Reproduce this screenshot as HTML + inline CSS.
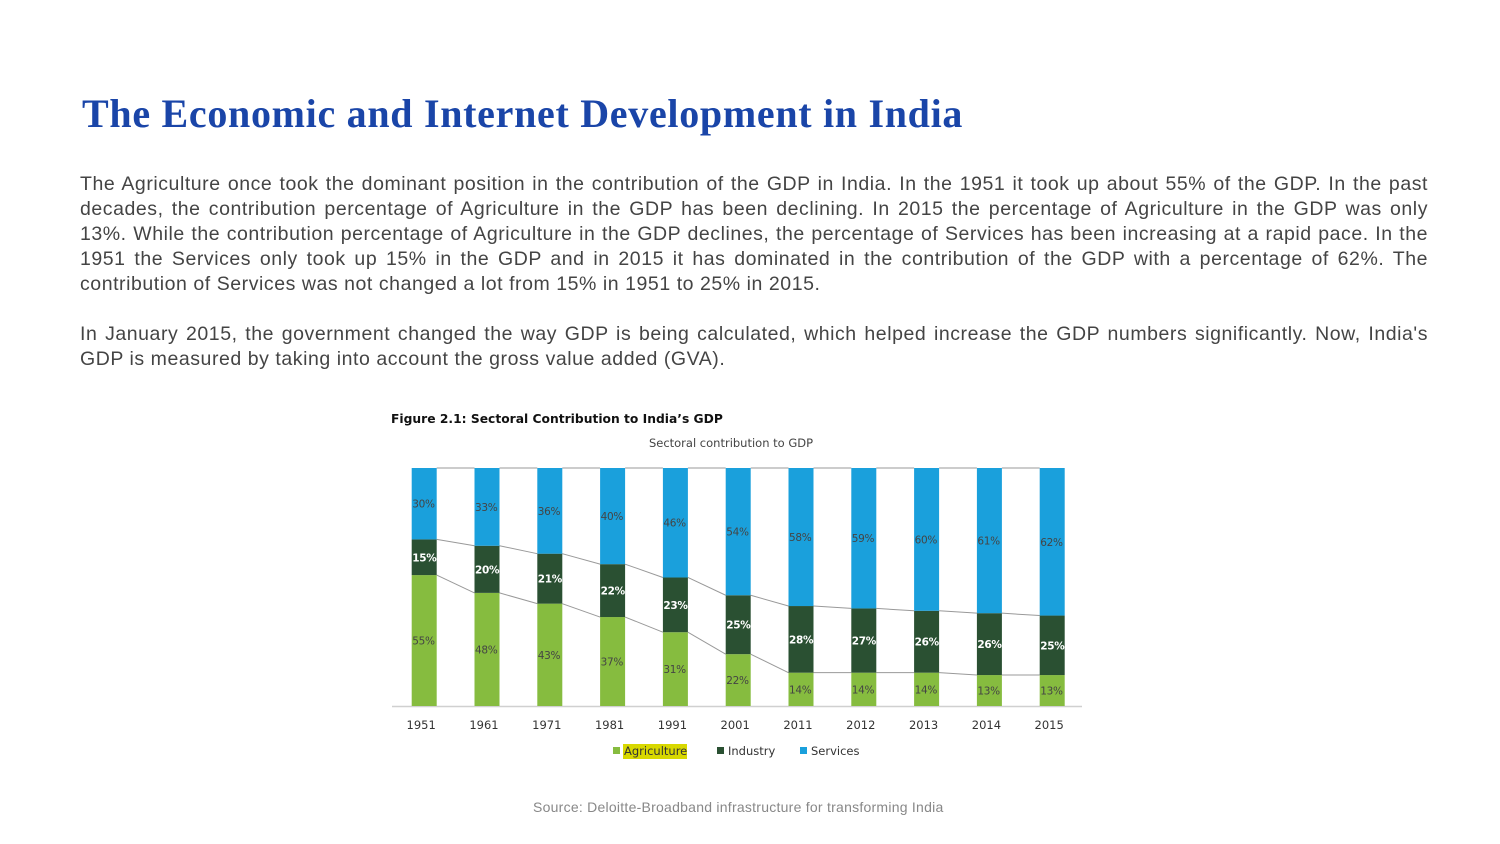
<!DOCTYPE html>
<html><head><meta charset="utf-8"><style>
body{margin:0;width:1500px;height:844px;background:#fff;position:relative;overflow:hidden;font-family:"Liberation Sans",sans-serif}
h1{position:absolute;left:82px;top:90px;margin:0;font-family:"Liberation Serif",serif;font-size:40px;font-weight:bold;color:#1a45a8;letter-spacing:0.7px}
.p{position:absolute;left:80px;width:1348px;margin:0;font-size:19.5px;line-height:25px;color:#444;letter-spacing:0.55px}
.p span{display:block;white-space:nowrap;text-align:justify;text-align-last:justify}
.p span.last{text-align-last:left}
.src{position:absolute;left:533px;top:799px;font-size:14px;color:#888;letter-spacing:0.25px}
</style></head><body>
<h1>The Economic and Internet Development in India</h1>
<div class="p" style="top:172px"><span>The Agriculture once took the dominant position in the contribution of the GDP in India. In the 1951 it took up about 55% of the GDP. In the past</span><span>decades, the contribution percentage of Agriculture in the GDP has been declining. In 2015 the percentage of Agriculture in the GDP was only</span><span>13%. While the contribution percentage of Agriculture in the GDP declines, the percentage of Services has been increasing at a rapid pace. In the</span><span>1951 the Services only took up 15% in the GDP and in 2015 it has dominated in the contribution of the GDP with a percentage of 62%. The</span><span class="last">contribution of Services was not changed a lot from 15% in 1951 to 25% in 2015.</span></div>
<div class="p" style="top:322px"><span>In January 2015, the government changed the way GDP is being calculated, which helped increase the GDP numbers significantly. Now, India's</span><span class="last">GDP is measured by taking into account the gross value added (GVA).</span></div>
<svg id="chart" width="1500" height="844" style="position:absolute;left:0;top:0" font-family="'DejaVu Sans',sans-serif">
<text x="391" y="423" font-size="12.3" font-weight="bold" fill="#111">Figure 2.1: Sectoral Contribution to India’s GDP</text>
<text x="731" y="447" font-size="11.5" fill="#444" text-anchor="middle">Sectoral contribution to GDP</text>
<line x1="392" x2="1082" y1="706.5" y2="706.5" stroke="#d0d0d0" stroke-width="1.5"/>
<g id="lines"></g><g id="bars"></g>
<g font-size="11.5" fill="#333">
<rect x="623" y="744" width="64" height="15" fill="#d8d800"/>
<rect x="613" y="747" width="7" height="7" fill="#86bc3f"/><text x="624" y="755">Agriculture</text>
<rect x="717" y="747" width="7" height="7" fill="#2a5032"/><text x="728" y="755">Industry</text>
<rect x="800" y="747" width="7" height="7" fill="#1aa0dc"/><text x="811" y="755">Services</text>
</g>
</svg>
<div class="src">Source: Deloitte-Broadband infrastructure for transforming India</div>
<script>
const years=["1951","1961","1971","1981","1991","2001","2011","2012","2013","2014","2015"];
const agriculture=[55,48,43,37,31,22,14,14,14,13,13];
const industry=[15,20,21,22,23,25,28,27,26,26,25];
const services=[30,33,36,40,46,54,58,59,60,61,62];
const NS="http://www.w3.org/2000/svg";
const x0=411.7,step=62.8,bw=25,yb=706,H=238;
const bars=document.getElementById('bars'),lines=document.getElementById('lines');
function mk(t,a,p){const e=document.createElementNS(NS,t);for(const k in a)e.setAttribute(k,a[k]);(p||bars).appendChild(e);return e;}
const cols=["#86bc3f","#2a5032","#1aa0dc"];
const tops=[[],[]];
years.forEach((y,i)=>{
 const vals=[agriculture[i],industry[i],services[i]];
 const tot=vals.reduce((a,b)=>a+b,0);
 const x=x0+i*step;let cum=0;
 vals.forEach((v,j)=>{
  const y1=yb-cum/tot*H, y2=yb-(cum+v)/tot*H;cum+=v;
  if(j<2)tops[j].push(y2);
  const r=mk('rect',{x:x,y:y2,width:bw,height:y1-y2,fill:cols[j]});
  
  
  const t=mk('text',{x:x+0.5,y:(y1+y2)/2+4,'font-size':10.5,'letter-spacing':-0.3,fill:j==1?'#fff':'#444','font-weight':j==1?'bold':'normal'});
  
  
  t.textContent=v+'%';
 });
 const tl=mk('text',{x:x+bw/2-3,y:729,'font-size':11.5,fill:'#333','text-anchor':'middle'});
 
 
 tl.textContent=y;
});
[tops[0],tops[1],years.map(()=>yb-H)].forEach(arr=>{
 for(let i=0;i<arr.length-1;i++){
  const l=mk('line',{x1:x0+i*step+bw,y1:arr[i],x2:x0+(i+1)*step,y2:arr[i+1],stroke:'#999','stroke-width':1},lines);
  
  
 }
});
</script>
</body></html>
